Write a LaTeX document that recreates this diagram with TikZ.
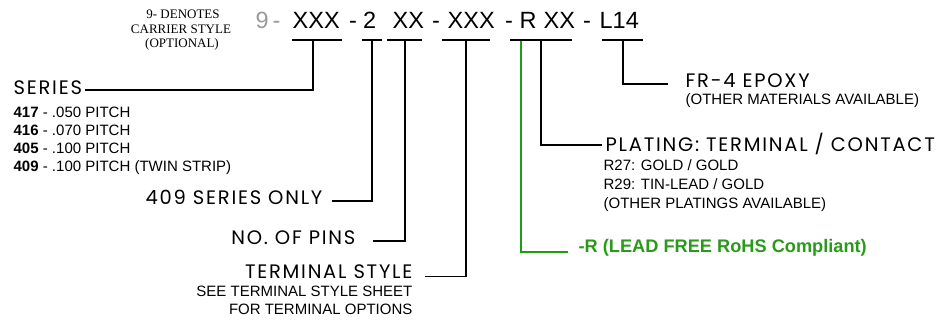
\documentclass[tikz,border=0pt]{standalone}
\usepackage{fontspec}
\setmainfont{Liberation Sans}
\newfontfamily\widefont[LetterSpace=9]{Poppins}
\newfontfamily\serfont{Liberation Serif}
\definecolor{rohs}{HTML}{2A9A1A}
\definecolor{rohsline}{HTML}{1E9E0E}
\definecolor{greyc}{HTML}{9A9A9A}
\begin{document}
\begin{tikzpicture}[x=1pt,y=-1pt,line width=1.3pt,
  code/.style={font=\fontsize{23.5}{24}\selectfont, inner sep=0pt, anchor=base west},
  wide/.style={font=\widefont\fontsize{19.5}{20}\selectfont, inner sep=0pt},
  small/.style={font=\fontsize{15}{15}\selectfont, inner sep=0pt},
  note/.style={font=\serfont\fontsize{13}{13}\selectfont, inner sep=0pt, anchor=base},
  greenlink/.style={draw=rohsline, line width=1.6pt}]
\useasboundingbox (0,0) rectangle (943,320);

% code line
\node[code, text=greyc] (c9) at (255,28.3) {9};
\node[code, text=greyc] (h1) at (272,28.3) {-};
\node[code] (xxx1) at (292,28.3) {XXX};
\node[code] (h2) at (348.5,28.3) {-};
\node[code] (two) at (362.5,28.3) {2};
\node[code] (xx1) at (392,28.3) {XX};
\node[code] (h3) at (431.5,28.3) {-};
\node[code] (xxx2) at (447,28.3) {XXX};
\node[code] (h4) at (504.5,28.3) {-};
\node[code] (rr) at (519,28.3) {R};
\node[code] (xx2) at (543,28.3) {XX};
\node[code] (h5) at (582.5,28.3) {-};
\node[code] (l14) at (599,28.3) {L14};

\node[note] (n1) at (183,18.5) {9- DENOTES};
\node[note] (n2) at (181,33.5) {CARRIER STYLE};
\node[note] (n3) at (182,48) {(OPTIONAL)};

% underline coordinates
\coordinate (u1a) at (292,40); \coordinate (u1b) at (342,40); \coordinate (t1) at (313,40);
\coordinate (u2a) at (362,40); \coordinate (u2b) at (382,40); \coordinate (t2) at (372,40);
\coordinate (u3a) at (387,40); \coordinate (u3b) at (422,40); \coordinate (t3) at (405,40);
\coordinate (u4a) at (442,40); \coordinate (u4b) at (490,40); \coordinate (t4) at (466,40);
\coordinate (u5a) at (510,40); \coordinate (u5b) at (572,40); \coordinate (t5) at (541,40); \coordinate (tg) at (521,40.7);
\coordinate (u6a) at (602,40); \coordinate (u6b) at (643,40); \coordinate (t6) at (623,40);
\foreach \i in {1,...,6} \draw (u\i a) -- (u\i b);

% left labels
\node[wide, anchor=base west] (series) at (13,95) {SERIES};
\node[small, anchor=base west] (s417) at (13,117.5) {\textbf{417} - .050 PITCH};
\node[small, anchor=base west] (s416) at (13,135.5) {\textbf{416} - .070 PITCH};
\node[small, anchor=base west] (s405) at (13,153.5) {\textbf{405} - .100 PITCH};
\node[small, anchor=base west] (s409) at (13,172) {\textbf{409} - .100 PITCH (TWIN STRIP)};
\node[wide, anchor=base east] (only) at (323,205) {409 SERIES ONLY};
\node[wide, anchor=base east] (pins) at (356,245) {NO. OF PINS};
\node[wide, anchor=base east] (term) at (413,279) {TERMINAL STYLE};
\node[small, anchor=base east] (tn1) at (413,297) {SEE TERMINAL STYLE SHEET};
\node[small, anchor=base east] (tn2) at (413,314.5) {FOR TERMINAL OPTIONS};

% right labels
\node[wide, anchor=base west] (fr4) at (685,88) {FR-4 EPOXY};
\node[small, anchor=base west] (fr4note) at (685,105) {(OTHER MATERIALS AVAILABLE)};
\node[wide, anchor=base west] (plat) at (605,152) {PLATING: TERMINAL / CONTACT};
\node[small, anchor=base west] (p1) at (603,170.5) {R27: GOLD / GOLD};
\node[small, anchor=base west] (p2) at (603,189.5) {R29: TIN-LEAD / GOLD};
\node[small, anchor=base west] (p3) at (603,208.5) {(OTHER PLATINGS AVAILABLE)};
\node[font=\bfseries\fontsize{18.2}{18}\selectfont, text=rohs, inner sep=0pt, anchor=base west] (rohs) at (578,253) {-R (LEAD FREE RoHS Compliant)};

% connectors
\draw (t1) |- ([xshift=2pt,yshift=5pt]series.base east);
\draw (t2) |- ([xshift=9pt,yshift=4pt]only.base east);
\draw (t3) |- ([xshift=17pt,yshift=4pt]pins.base east);
\draw (t4) |- ([xshift=12pt,yshift=2.3pt]term.base east);
\draw (t5) |- ([xshift=-3pt,yshift=7pt]plat.base west);
\draw (t6) |- ([xshift=-17pt,yshift=4pt]fr4.base west);
\path[greenlink] (tg) |- ([xshift=-10pt,yshift=1pt]rohs.base west);
\end{tikzpicture}
\end{document}
